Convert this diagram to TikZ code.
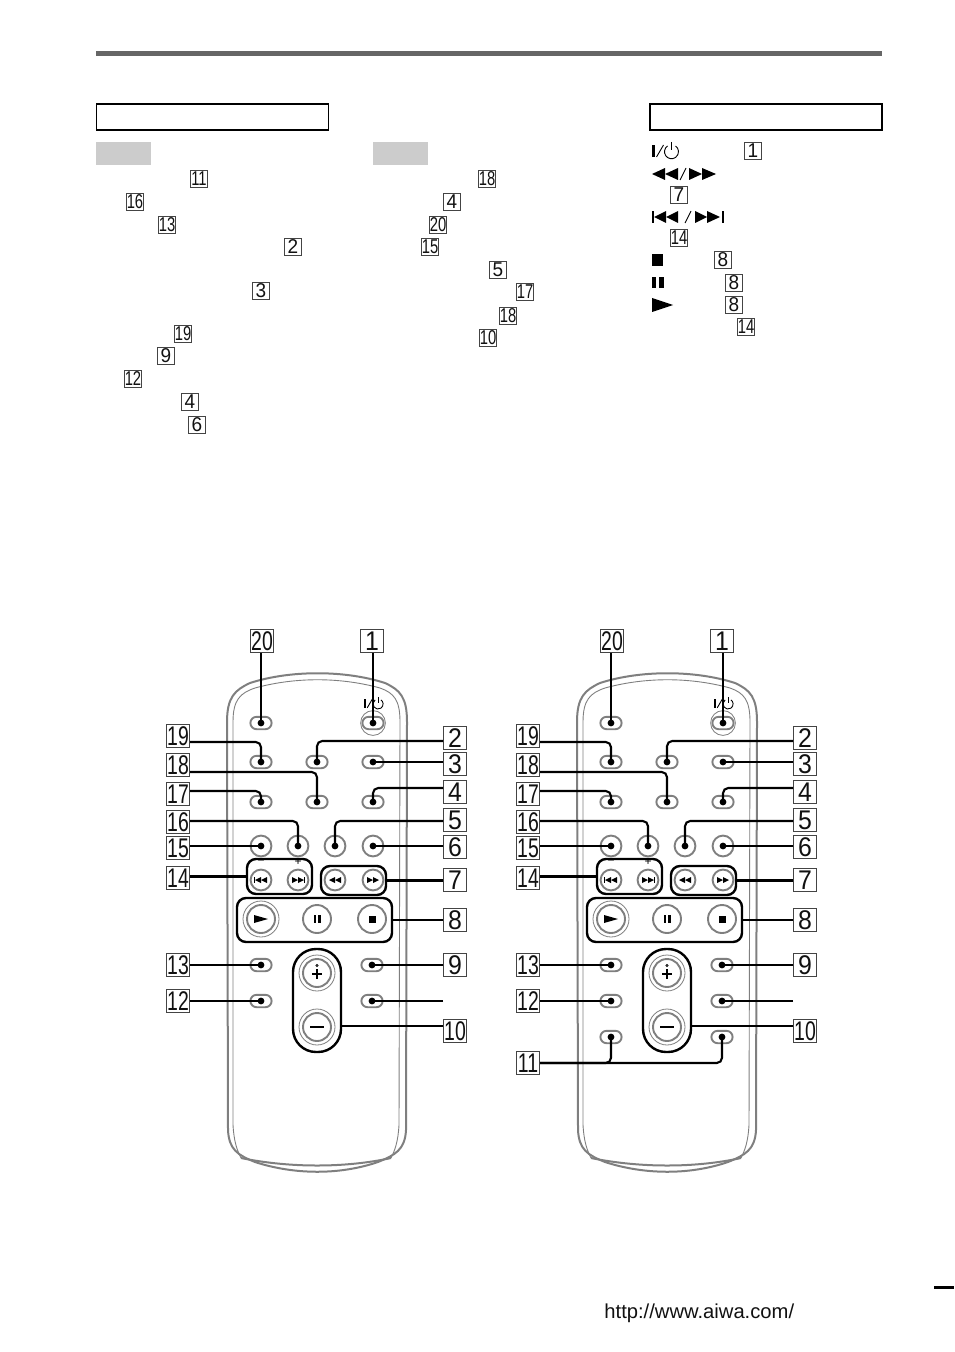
\documentclass[tikz,border=0pt]{standalone}
\usepackage{fontspec}
\usepackage{graphicx}
\setmainfont{Liberation Sans}
\definecolor{inkk}{HTML}{111111}
\definecolor{bodygray}{HTML}{7F7F7F}
\definecolor{boxedge}{HTML}{444444}
\tikzset{
  biglab/.style={draw=boxedge,line width=.6pt,fill=white,inner sep=0pt,minimum size=11.4pt,text=inkk,font=\fontsize{13.5}{13.5}\selectfont},
  smalllab/.style={draw=boxedge,line width=.55pt,inner sep=0pt,minimum size=8.6pt,text=inkk,font=\fontsize{10}{10}\selectfont},
  pill/.style={draw=bodygray,line width=.95pt,fill=white,rectangle,rounded corners=3.1pt,minimum width=10.6pt,minimum height=6.2pt,inner sep=0pt},
  roundbtn/.style={draw=bodygray,line width=.95pt,fill=white,circle,minimum size=10.4pt,inner sep=0pt},
  bigbtn/.style={draw=bodygray,line width=.95pt,fill=white,circle,minimum size=14pt,inner sep=0pt},
  ringbtn/.style={draw=bodygray,line width=.4pt,fill=white,circle,minimum size=18pt,inner sep=0pt},
  grp/.style={draw=black,line width=1.2pt,rectangle,rounded corners=4.5pt,inner sep=0pt},
  conn/.style={draw=black,line width=1.05pt,rounded corners=2.6pt},
  shell/.style={draw=bodygray,line width=1pt},
  shellthin/.style={draw=bodygray,line width=.45pt},
  frame/.style={draw=black,rectangle,line width=.8pt,inner sep=0pt},
  shade/.style={fill=black!20,draw=none,rectangle,inner sep=0pt,minimum width=27.5pt,minimum height=11.5pt}
}
\newcommand{\biglb}[3]{\node[biglab] (l#1) at (#2,#3) {\scalebox{\ifnum#1>9 .72\else .92\fi}[1]{#1}};}
\newcommand{\sml}[3]{\node[smalllab] at (#2,#3) {\scalebox{\ifnum#1>9 .74\else .95\fi}[1]{#1}};}
\newcommand{\ltri}[4]{\fill[black] (#1,#3-#4) -- (#2,#3) -- (#1,#3+#4) -- cycle;}
\newcommand{\poweric}[3]{\begin{scope}[shift={(#1,#2)},scale=#3]
  \fill[black] (0,3) rectangle (3,15);
  \draw[black,line width=.45pt] (4.5,15) -- (11.5,3);
  \draw[black,line width=.45pt] (15.5,4) arc[start angle=-125,end angle=-415,radius=7];
  \draw[black,line width=.5pt] (19.5,0) -- (19.5,8);
\end{scope}}
\newcommand{\remote}{%
  % shell
  \draw[shell] (228,1130) -- (227,722) .. controls (227,697) and (235,690) .. (250,683)
     .. controls (290,670) and (345,670) .. (385,683) .. controls (400,690) and (407,697) .. (407,722)
     -- (406,1130) .. controls (405,1150) and (395,1155) .. (378,1162)
     .. controls (340,1175) and (295,1175) .. (255,1162) .. controls (238,1155) and (229,1150) .. (228,1130) -- cycle;
  \draw[shellthin] (233,1125) -- (233,722) .. controls (233,700) and (240,693) .. (255,688)
     .. controls (295,677) and (340,677) .. (380,688) .. controls (394,693) and (400,700) .. (400,722)
     -- (399,1125) .. controls (398,1142) and (395,1150) .. (391,1158);
  \draw[shellthin] (233,1125) .. controls (234,1142) and (237,1150) .. (241,1158);
  \draw[shell] (241,1158) .. controls (290,1168) and (345,1168) .. (391,1158);
  % power ring
  \node[circle,draw=bodygray,line width=.4pt,minimum size=12.4pt,inner sep=0pt] (pw) at (373,723) {};
  % pills
  \node[pill] (b20) at (261,723) {};
  \node[pill] (b1)  at (373,723) {};
  \node[pill] (b19) at (261,762) {};
  \node[pill] (b2)  at (317,762) {};
  \node[pill] (b3)  at (373,762) {};
  \node[pill] (b17) at (261,802) {};
  \node[pill] (b18) at (317,802) {};
  \node[pill] (b4)  at (373,802) {};
  \node[pill] (b13) at (261,965) {};
  \node[pill] (b9)  at (372,965) {};
  \node[pill] (b12) at (261,1001) {};
  \node[pill] (bq)  at (372,1001) {};
  % round
  \node[roundbtn] (b15) at (261,846) {};
  \node[roundbtn] (b16) at (298,846) {};
  \node[roundbtn] (b5)  at (335,846) {};
  \node[roundbtn] (b6)  at (373,846) {};
  \node[roundbtn] (p1) at (261,880) {};
  \node[roundbtn] (p2) at (298,880) {};
  \node[roundbtn] (p3) at (335,880) {};
  \node[roundbtn] (p4) at (373,880) {};
  % groups
  \node[grp,minimum width=32.5pt,minimum height=17.5pt] (g14) at (279.5,876.5) {};
  \node[grp,minimum width=32.5pt,minimum height=14.5pt] (g7)  at (353.5,880.5) {};
  \node[grp,minimum width=77.5pt,minimum height=22pt] (g8) at (314.5,920) {};
  \node[grp,rounded corners=11.5pt,minimum width=24pt,minimum height=51.5pt] (g10) at (317,1000.5) {};
  % big buttons
  \node[ringbtn] (playr) at (261,919) {};
  \node[bigbtn] (play) at (261,919) {};
  \node[bigbtn] (pause) at (317,919) {};
  \node[bigbtn] (stop) at (372,919) {};
  \node[ringbtn] (plusr) at (317,973) {};
  \node[bigbtn] (plus) at (317,973) {};
  \node[ringbtn] (minusr) at (317,1027) {};
  \node[bigbtn] (minus) at (317,1027) {};
  % icons
  \ltri{254}{268}{919}{4}
  \fill[black] (313.5,915) rectangle (315.8,923);
  \fill[black] (318.2,915) rectangle (320.5,923);
  \fill[black] (368.5,915.5) rectangle (376,923);
  \draw[black,line width=.55pt] (312,974) -- (322,974) (317,969) -- (317,979);
  \draw[black,line width=.3pt] (317,965.5) circle (1.1);
  \draw[black,line width=.55pt] (310,1027) -- (324,1027);
  \ltri{261}{255}{880}{3}\ltri{267}{261}{880}{3}
  \fill[black] (253.6,877) rectangle (254.8,883);
  \ltri{292}{298}{880}{3}\ltri{298}{304}{880}{3}
  \fill[black] (304,877) rectangle (305.2,883);
  \ltri{335}{329}{880}{3}\ltri{341}{335}{880}{3}
  \ltri{367}{373}{880}{3}\ltri{373}{379}{880}{3}
  \node[inner sep=0pt,font=\fontsize{6}{6}\selectfont] (mn) at (261,862.5) {−};
  \node[inner sep=0pt,font=\fontsize{6}{6}\selectfont] (pl) at (298,862.5) {+};
  \poweric{364}{697}{.72}
  % labels
  \biglb{20}{262}{641}\biglb{1}{372}{641}
  \biglb{19}{178}{736}\biglb{18}{178}{765}\biglb{17}{178}{794}\biglb{16}{178}{822}
  \biglb{15}{178}{848}\biglb{14}{178}{878}\biglb{13}{178}{965}\biglb{12}{178}{1001}
  \biglb{2}{455}{738}\biglb{3}{455}{764}\biglb{4}{455}{792}\biglb{5}{455}{820}
  \biglb{6}{455}{847}\biglb{7}{455}{880}\biglb{8}{455}{920}\biglb{9}{455}{965}\biglb{10}{455}{1031}
  \coordinate (cq) at (443,1001);
  \coordinate (c10) at (341,1026);
  % connectors
  \draw[conn] (b20.center |- l20.south) -- (b20.center);
  \draw[conn] (b1.center |- l1.south) -- (b1.center);
  \draw[conn] ([yshift=-3pt]l19.east) -| (b19.center);
  \draw[conn] ([yshift=-3.5pt]l18.east) -| (b18.center);
  \draw[conn] ([yshift=1.5pt]l17.east) -| (b17.center);
  \draw[conn] ([yshift=.5pt]l16.east) -| (b16.center);
  \draw[conn] (l15.east |- b15.center) -- (b15.center);
  \draw[conn] (l14.east |- g14.west) -- (g14.west);
  \draw[conn] (l13.east) -- (b13.center);
  \draw[conn] (l12.east) -- (b12.center);
  \draw[conn] ([yshift=-1.5pt]l2.west) -| (b2.center);
  \draw[conn] (l3.west |- b3.center) -- (b3.center);
  \draw[conn] ([yshift=2pt]l4.west) -| (b4.center);
  \draw[conn] ([yshift=-.5pt]l5.west) -| (b5.center);
  \draw[conn] (l6.west |- b6.center) -- (b6.center);
  \draw[conn] (l7.west |- g7.east) -- (g7.east);
  \draw[conn] (l8.west) -- (g8.east);
  \draw[conn] (l9.west) -- (b9.center);
  \draw[conn] (cq) -- (bq.center);
  \draw[conn] (l10.west |- c10) -- (c10);
  % dots
  \foreach \n in {b20,b1,b19,b2,b3,b17,b18,b4,b13,b9,b12,bq,b15,b16,b5,b6}
    \fill[black] (\n.center) circle (1.7pt);
}
\begin{document}
\begin{tikzpicture}[x=.5pt,y=-.5pt]
\useasboundingbox (0,0) rectangle (954,1352);
% header
\fill[black!60] (96,51) rectangle (882,56);
\node[frame,minimum width=116pt,minimum height=13pt] (hl) at (212.5,117) {};
\node[frame,minimum width=116pt,minimum height=13pt] (hr) at (766,117) {};
\node[shade] (s1) at (123.5,153.5) {};
\node[shade] (s2) at (400.5,153.5) {};
% index references
\sml{11}{199}{179}\sml{16}{135}{202}\sml{13}{167}{225}\sml{2}{293}{247}\sml{3}{261}{291}
\sml{19}{183}{334}\sml{9}{166}{356}\sml{12}{133}{379}\sml{4}{190}{402}\sml{6}{197}{425}
\sml{18}{487}{179}\sml{4}{452}{202}\sml{20}{438}{225}\sml{15}{430}{247}\sml{5}{498}{270}
\sml{17}{525}{292}\sml{18}{508}{316}\sml{10}{488}{338}
\sml{1}{753}{151}\sml{7}{679}{195}\sml{14}{679}{238}\sml{8}{723}{260}\sml{8}{734}{283}\sml{8}{734}{305}\sml{14}{746}{327}
% symbol column
\poweric{652}{142}{1}
\ltri{665}{652}{174}{6}\ltri{678}{665}{174}{6}
\draw[black,line width=.45pt] (680,180) -- (686,168);
\ltri{689}{702}{174}{6}\ltri{702}{716}{174}{6}
\fill[black] (652,211) rectangle (654,223);
\ltri{666}{654}{217}{6}\ltri{678}{666}{217}{6}
\draw[black,line width=.45pt] (685,223) -- (691,211);
\ltri{695}{707}{217}{6}\ltri{707}{720}{217}{6}
\fill[black] (722,211) rectangle (724,223);
\fill[black] (652,254) rectangle (663,266);
\fill[black] (652,277) rectangle (656,288);
\fill[black] (659,277) rectangle (664,288);
\ltri{652}{673}{305}{7}
% remotes
\begin{scope}[name prefix=L-]
\remote
\end{scope}
\begin{scope}[xshift=175pt,name prefix=R-]
\remote
\node[pill] (b11a) at (261,1037) {};
\node[pill] (b11b) at (372,1037) {};
\biglb{11}{178}{1063}
\draw[conn] (l11.east) -| (b11a.center);
\draw[conn] (l11.east) -| (b11b.center);
\fill[black] (b11a.center) circle (1.7pt);
\fill[black] (b11b.center) circle (1.7pt);
\end{scope}
% footer
\node[anchor=west,inner sep=0pt,text=inkk,font=\fontsize{10.1}{10.1}\selectfont] (url) at (604,1313) {http://www.aiwa.com/};
\fill[black] (934,1286) rectangle (954,1288.5);
\end{tikzpicture}
\end{document}
